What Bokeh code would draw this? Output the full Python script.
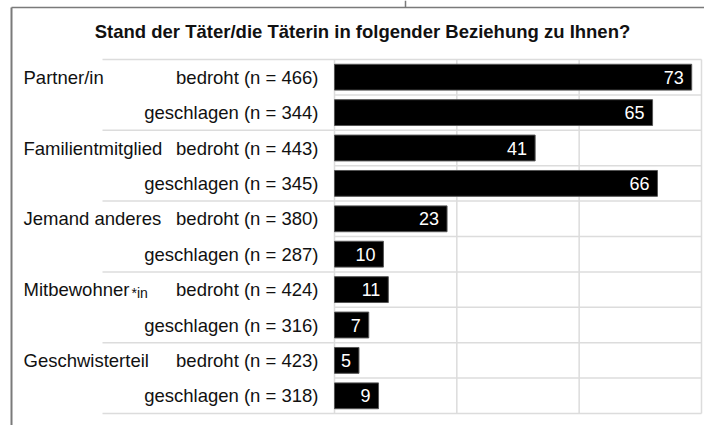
from bokeh.plotting import figure
from bokeh.models import Range1d, ColumnDataSource
from bokeh.core.properties import value
from bokeh.embed import file_html
from bokeh.resources import INLINE

# ---- data ----
title = "Stand der Täter/die Täterin in folgender Beziehung zu Ihnen?"
categories = ["Partner/in", "Familientmitglied", "Jemand anderes", "Mitbewohner*in", "Geschwisterteil"]
kinds = ["bedroht", "geschlagen"]
n_bedroht = [466, 443, 380, 424, 423]
n_geschlagen = [344, 345, 287, 316, 318]
pct_bedroht = [73, 41, 23, 11, 5]
pct_geschlagen = [65, 66, 10, 7, 9]
x_ticks = [0, 25, 50, 75]

# ---- layout constants (pixels of the page) ----
W, H = 704, 425
ORX, ORY = 0, 0            # page offset of canvas
X0, X75 = 334, 701         # page x of value 0 and 75
Y0, RH = 59, 35.4          # page y of first row top, row height
K = (X75 - X0) / 75.0

def dx(px):
    return (px - X0) / K

def dy(py):
    return (py - Y0) / RH

FONT = value("Liberation Sans")

p = figure(width=W, height=H, output_backend="svg", toolbar_location=None,
           x_range=Range1d(dx(ORX), dx(ORX + W)),
           y_range=Range1d(dy(ORY + H), dy(ORY)),
           x_axis_location=None, y_axis_location=None,
           min_border=0, min_border_left=0, min_border_right=0,
           min_border_top=0, min_border_bottom=0)
p.outline_line_color = None
p.grid.visible = False
p.background_fill_color = "white"
p.border_fill_color = "white"

# rows
rows_y, rows_val, rows_lab = [], [], []
for i, c in enumerate(categories):
    for j, k in enumerate(kinds):
        r = 2 * i + j
        rows_y.append(r + 0.5)
        v = pct_bedroht[i] if j == 0 else pct_geschlagen[i]
        n = n_bedroht[i] if j == 0 else n_geschlagen[i]
        rows_val.append(v)
        rows_lab.append(f"{k} (n = {n})")
n_rows = len(rows_y)

GRID = "#dcdcdc"
# vertical grid lines
p.segment(x0=x_ticks, x1=x_ticks, y0=[0] * len(x_ticks), y1=[n_rows] * len(x_ticks),
          line_color=GRID, line_width=1.5)
# group separators (extend into label area)
gsep = [2 * i for i in range(len(categories) + 1)]
p.segment(x0=[dx(102)] * len(gsep), x1=[x_ticks[-1]] * len(gsep), y0=gsep, y1=gsep,
          line_color=GRID, line_width=1.5)
# within-group separators
wsep = [2 * i + 1 for i in range(len(categories))]
p.segment(x0=[0] * len(wsep), x1=[x_ticks[-1]] * len(wsep), y0=wsep, y1=wsep,
          line_color=GRID, line_width=1.5)

# frame lines of the page
FRAME = "#7a7a7a"
p.segment(x0=[dx(11)], x1=[dx(11)], y0=[dy(7)], y1=[dy(ORY + H)], line_color=FRAME, line_width=2)
p.segment(x0=[dx(11)], x1=[dx(ORX + W)], y0=[dy(7)], y1=[dy(7)], line_color=FRAME, line_width=1.5)
p.segment(x0=[dx(405)], x1=[dx(405)], y0=[dy(0)], y1=[dy(7)], line_color=FRAME, line_width=1.5)

src = ColumnDataSource(dict(y=rows_y, v=rows_val, lab=rows_lab, vs=[str(v) for v in rows_val]))
p.hbar(y="y", left=0, right="v", height=0.73, source=src,
       fill_color="black", line_color="#555555", line_width=1)
p.text(x="v", y="y", text="vs", source=src, x_offset=-8, text_align="right",
       text_baseline="middle", text_color="white", text_font=FONT, text_font_size="18px")

# sub labels
p.text(x=dx(318), y="y", text="lab", source=src, text_align="right", text_baseline="middle",
       text_color="#111111", text_font=FONT, text_font_size="18.5px")

# category labels
cy = [2 * i + 0.5 for i in range(len(categories))]
base, suf_y, suf = [], [], []
for i, c in enumerate(categories):
    if c.endswith("*in"):
        base.append(c[:-3])
        suf_y.append(cy[i])
        suf.append(c[-3:])
    else:
        base.append(c)
p.text(x=dx(23), y=cy, text=base, text_align="left", text_baseline="middle",
       text_color="#111111", text_font=FONT, text_font_size="18.5px")
p.text(x=dx(23), y=suf_y, text=suf, x_offset=108, y_offset=3, text_align="left",
       text_baseline="middle", text_color="#111111", text_font=FONT, text_font_size="14px")

# title
p.text(x=[dx(362)], y=[dy(31)], text=[title], text_align="center", text_baseline="middle",
       text_color="#111111", text_font=FONT, text_font_size="18.5px", text_font_style="bold")

open("out.html", "w").write(file_html(p, INLINE))
